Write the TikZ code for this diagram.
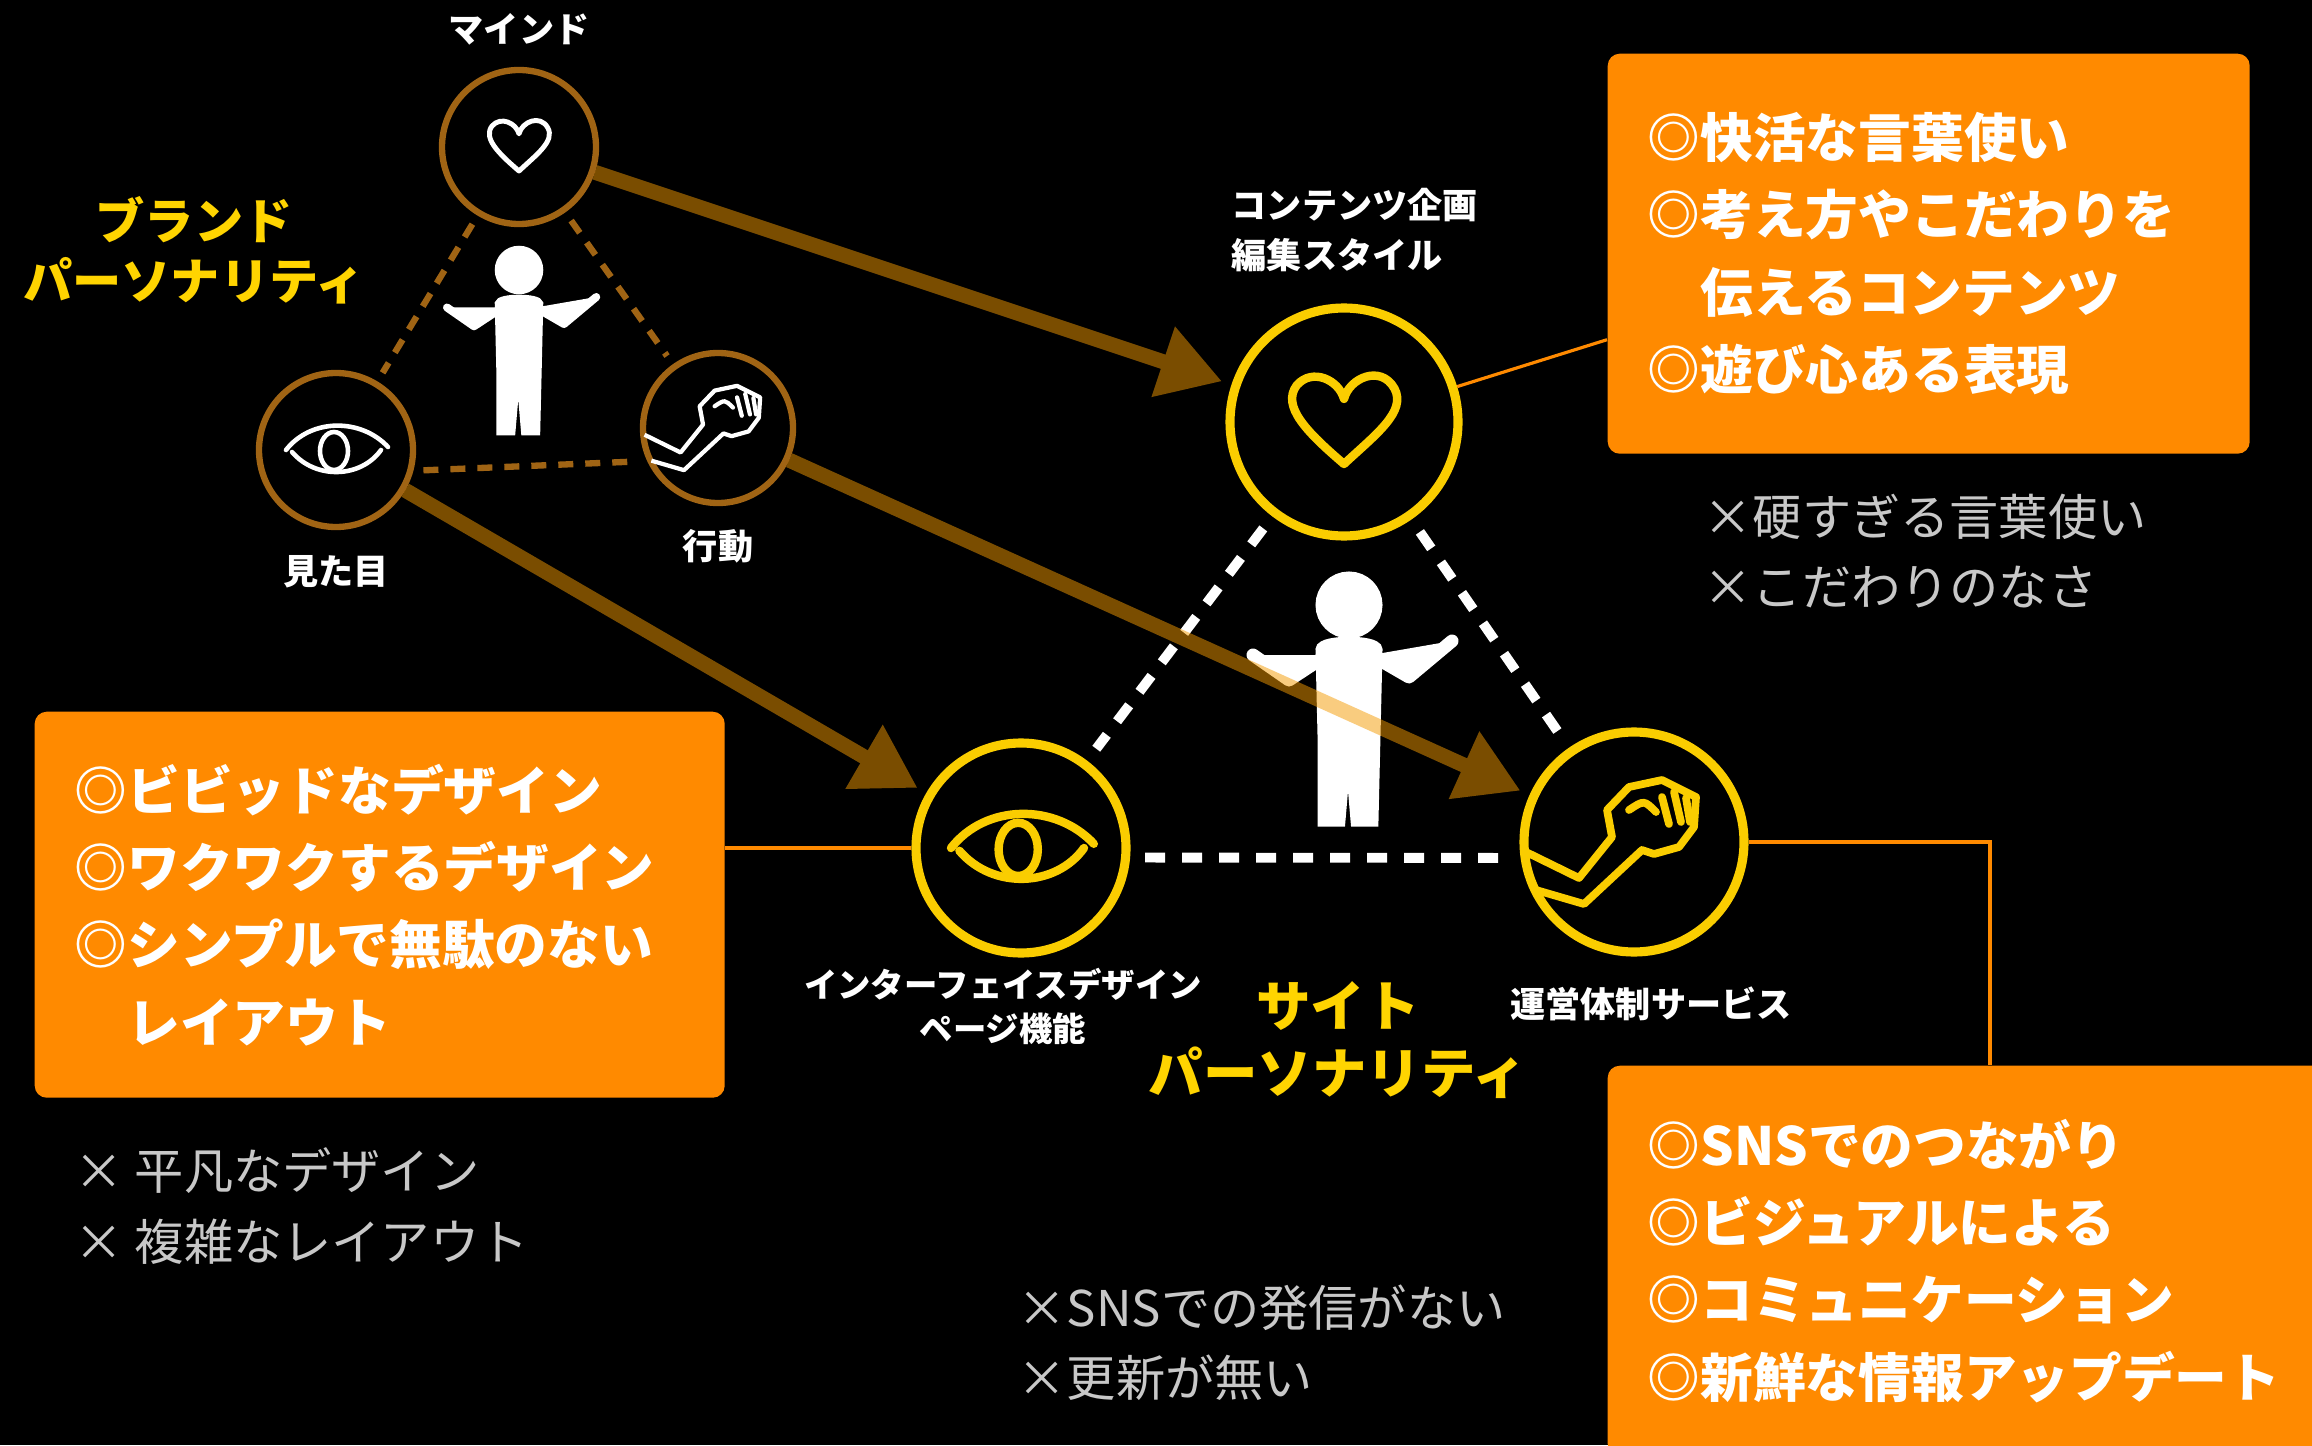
\documentclass[tikz,border=0pt]{standalone}
\usepackage{fontspec}
\setmainfont{Noto Sans CJK JP}
\usetikzlibrary{arrows.meta}

\definecolor{boxorange}{RGB}{255,138,0}
\definecolor{ringyellow}{RGB}{250,205,0}
\definecolor{ringbrown}{RGB}{160,100,20}
\definecolor{arrowbrown}{RGB}{245,155,0}
\definecolor{titleyellow}{RGB}{255,212,0}
\definecolor{notegray}{RGB}{200,200,200}

\begin{document}
\begin{tikzpicture}[
  ring/.style={circle, draw, inner sep=0pt},
  brandring/.style={ring, draw=ringbrown, line width=1.8pt},
  sitering/.style={ring, draw=ringyellow, line width=2.6pt},
  lbl/.style={text=white, font=\bfseries\fontsize{10pt}{14pt}\selectfont},
  headline/.style={text=titleyellow, align=center},
  notebox/.style={fill=boxorange, rounded corners=0.12cm, text=white, align=left,
    inner xsep=0.4cm, anchor=north west, font=\bfseries\fontsize{15pt}{22pt}\selectfont},
  note/.style={text=notegray, align=left, anchor=west, inner sep=0pt,
    font=\fontsize{14pt}{20pt}\selectfont},
  link/.style={draw=boxorange, line width=0.9pt},
  flow/.style={draw=arrowbrown, line width=0.15cm,
    -{Triangle[width=0.7cm, length=0.62cm]}, shorten >=0.1cm},
  branddash/.style={draw=ringbrown, line width=1.8pt, dash pattern=on 0.15cm off 0.12cm,
    shorten <=0.1cm, shorten >=0.1cm},
  sitedash/.style={draw=white, line width=2.8pt, dash pattern=on 0.2cm off 0.17cm,
    shorten <=0.15cm, shorten >=0.15cm},
  % icons, drawn at the size of the site circles
  pics/heart/.style={code={
    \draw[pic actions, line join=round] (0,-0.4) .. controls (-0.35,-0.1) and (-0.6,0.15) .. (-0.45,0.35)
      .. controls (-0.3,0.52) and (-0.05,0.4) .. (0,0.22)
      .. controls (0.05,0.42) and (0.35,0.55) .. (0.48,0.32)
      .. controls (0.6,0.1) and (0.3,-0.12) .. (0,-0.4) -- cycle;
  }},
  pics/eye/.style={code={
    \draw[pic actions, line cap=round] (-0.5,0) .. controls (-0.25,0.32) and (0.25,0.32) .. (0.52,0.03);
    \draw[pic actions, line cap=round] (-0.44,-0.02) .. controls (-0.2,-0.3) and (0.25,-0.28) .. (0.45,0);
    \draw[pic actions] (-0.02,-0.01) ellipse (0.14 and 0.19);
  }},
  pics/fist/.style={code={
    \draw[pic actions, line join=round] (-1.08,-0.1) -- (-0.55,-0.36) -- (-0.22,0.05) -- (-0.27,0.32)
      -- (-0.05,0.55) -- (0.28,0.62) -- (0.62,0.45) -- (0.6,0.15) -- (0.45,-0.05)
      -- (0.2,-0.12) -- (0.08,-0.08) -- (-0.5,-0.62) -- (-0.98,-0.48);
    \draw[pic actions, line cap=round] (0.28,0.45) -- (0.35,0.18) (0.4,0.5) -- (0.47,0.2) (0.52,0.44) -- (0.56,0.2);
    \draw[pic actions, line cap=round] (-0.05,0.32) .. controls (0.1,0.42) .. (0.22,0.3);
  }},
  pics/person/.style={code={
    \fill[pic actions] (0,0) circle (0.27);
    \fill[pic actions] (-0.27,-0.45) .. controls (-0.27,-0.36) and (0.27,-0.36) .. (0.27,-0.45)
      -- (0.25,-1.3) -- (0.23,-2.15) -- (0.08,-2.15) -- (0.02,-1.45) -- (-0.04,-1.45)
      -- (-0.1,-2.15) -- (-0.25,-2.15) -- (-0.25,-1.3) -- cycle;
    \draw[pic actions, line cap=round, line join=round] (-0.22,-0.5) -- (-0.6,-0.75) -- (-0.96,-0.5);
    \draw[pic actions, line cap=round, line join=round] (0.22,-0.5) -- (0.6,-0.72) -- (1.03,-0.36);
  }}
]
  % Background
  \useasboundingbox (0,0) rectangle (23.12,14.45);
  \fill[black] (0,0) rectangle (23.12,14.45);
  \clip (0,0) rectangle (23.12,14.45);

  % Brand personality
  \node[brandring, minimum size=1.54cm] (bmind) at (5.19,12.98) {};
  \node[brandring, minimum size=1.54cm] (beye) at (3.36,9.95) {};
  \node[brandring, minimum size=1.5cm] (bact) at (7.18,10.17) {};
  \node[lbl] (lblbmind) at (5.19,14.16) {マインド};
  \node[lbl] (lblbeye) at (3.36,8.73) {見た目};
  \node[lbl] (lblbact) at (7.18,8.99) {行動};
  \node[headline, font=\bfseries\fontsize{14pt}{17pt}\selectfont] (brandname) at (1.94,11.95)
    {ブランド\\パーソナリティ};

  \draw[branddash] (bmind) -- (beye);
  \draw[branddash] (bmind) -- (bact);
  \draw[branddash] (beye.-15) -- (bact.-155);

  \pic[draw=white, line width=1.4pt, scale=0.6] at (bmind) {heart};
  \pic[draw=white, line width=1.3pt, scale=1.0] at (beye) {eye};
  \pic[draw=white, line width=1.2pt, scale=0.68] at (bact) {fist};
  \pic[fill=white, draw=white, line width=0.08cm, scale=0.75] at (5.19,11.75) {person};

  % Site personality
  \node[sitering, minimum size=2.28cm] (smind) at (13.44,10.23) {};
  \node[sitering, minimum size=2.1cm] (seye) at (10.21,5.97) {};
  \node[sitering, minimum size=2.2cm] (sact) at (16.34,6.03) {};
  \node[lbl, align=left, anchor=west, inner sep=0pt] (lblsmind) at (12.31,12.15)
    {コンテンツ企画\\編集スタイル};
  \node[lbl, align=center, font=\bfseries\fontsize{9.5pt}{12.5pt}\selectfont] (lblseye) at (10.03,4.39)
    {インターフェイスデザイン\\ページ機能};
  \node[lbl] (lblsact) at (16.51,4.41) {運営体制サービス};
  \node[headline, font=\bfseries\fontsize{15.5pt}{19pt}\selectfont] (sitename) at (13.38,4.05)
    {サイト\\パーソナリティ};

  \draw[sitedash] (smind) -- (seye);
  \draw[sitedash] (smind) -- (sact);
  \draw[sitedash] (seye.-5) -- (sact.-172);

  \pic[draw=ringyellow, line width=2.4pt, scale=1.05] at (smind) {heart};
  \pic[draw=ringyellow, line width=2.4pt, scale=1.4] at (seye) {eye};
  \pic[draw=ringyellow, line width=2.2pt, scale=1.0] at (sact) {fist};
  \pic[fill=white, draw=white, line width=0.13cm] at (13.49,8.40) {person};

  % Arrows brand -> site (half transparent, over the figure)
  \begin{scope}[transparency group, opacity=0.5]
    \draw[flow] (bmind) -- (smind);
  \end{scope}
  \begin{scope}[transparency group, opacity=0.5]
    \draw[flow] (bact) -- (sact);
  \end{scope}
  \begin{scope}[transparency group, opacity=0.5]
    \draw[flow] (beye) -- (seye);
  \end{scope}

  % Boxes
  \node[notebox, minimum width=6.42cm, minimum height=4cm, text width=5.62cm] (boxtop) at (16.07,13.92)
    {◎快活な言葉使い\\◎考え方やこだわりを\\\hspace*{1em}伝えるコンテンツ\\◎遊び心ある表現};
  \node[notebox, minimum width=6.9cm, minimum height=3.86cm, text width=6.1cm] (boxleft) at (0.34,7.34)
    {◎ビビッドなデザイン\\◎ワクワクするデザイン\\◎シンプルで無駄のない\\\hspace*{1em}レイアウト};
  \node[notebox, minimum width=7.5cm, minimum height=3.9cm, text width=6.7cm] (boxbot) at (16.07,3.80)
    {◎SNSでのつながり\\◎ビジュアルによる\\◎コミュニケーション\\◎新鮮な情報アップデート};

  \draw[link] (smind) -- ([yshift=-0.86cm]boxtop.west);
  \draw[link] (seye.west) -- (seye.west -| boxleft.east);
  \draw[link] (sact.east) -| ([xshift=3.83cm]boxbot.north west);

  % Notes
  \node[note] (notetop) at (17.03,8.94) {×硬すぎる言葉使い\\×こだわりのなさ};
  \node[note] (noteleft) at (0.74,2.39) {× 平凡なデザイン\\× 複雑なレイアウト};
  \node[note] (notebot) at (10.17,1.02) {×SNSでの発信がない\\×更新が無い};
\end{tikzpicture}
\end{document}
